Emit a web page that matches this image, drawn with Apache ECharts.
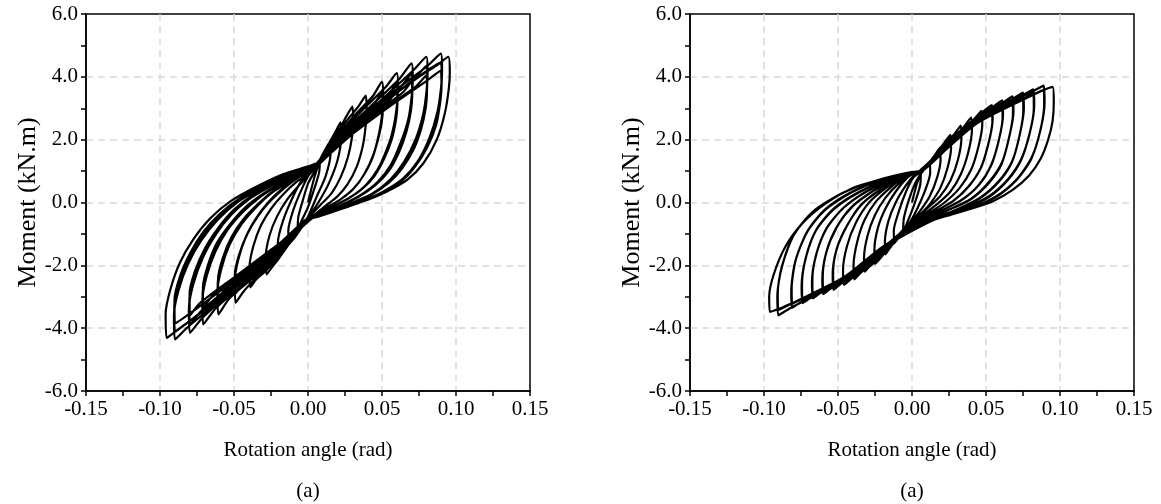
<!DOCTYPE html>
<html>
<head>
<meta charset="utf-8">
<script src="https://cdn.jsdelivr.net/npm/echarts@6/dist/echarts.min.js"></script>
<style>
  html, body { margin: 0; padding: 0; background: #fff; }
  #chart { width: 1161px; height: 504px; }
</style>
</head>
<body>
<div id="chart"></div>
<script>
// Axis ranges and tick steps
const xRange = [-0.15, 0.15];
const xStep = 0.05;
const yRange = [-6, 6];
const yStep = 2;
const xTitle = 'Rotation angle (rad)';
const yTitle = 'Moment (kN.m)';
const panelTags = ['(a)', '(a)'];

// Specimen 1: hysteresis cycles [rotation (rad), moment (kN.m)]
const s1c01 = [[0.000,0.00],[0.004,0.75],[0.008,1.35],[0.0075,0.95],[0.004,0.40],[0.000,-0.15],[-0.004,-0.55],[-0.007,-0.85],[-0.0065,-0.45],[-0.003,0.15],[0.000,0.60]];
const s1c02 = [[0.004,0.95],[0.009,1.45],[0.015,1.95],[0.0152,1.55],[0.012,0.85],[0.006,0.20],[0.000,-0.45],[-0.006,-0.90],[-0.013,-1.30],[-0.0133,-0.90],[-0.010,-0.25],[-0.004,0.45],[0.001,0.90]];
const s1c03 = [[0.005,1.10],[0.012,1.70],[0.018,2.20],[0.022,2.55],[0.0224,2.10],[0.020,1.35],[0.014,0.60],[0.007,0.00],[0.000,-0.50],[-0.008,-1.05],[-0.015,-1.45],[-0.020,-1.76],[-0.0204,-1.30],[-0.017,-0.60],[-0.010,0.20],[-0.003,0.80],[0.003,1.05]];
const s1c04 = [[0.006,1.20],[0.014,1.85],[0.022,2.40],[0.026,2.75],[0.030,3.05],[0.0305,2.60],[0.0298,2.10],[0.027,1.45],[0.022,0.80],[0.016,0.30],[0.009,-0.05],[0.002,-0.40],[-0.003,-0.65],[-0.011,-1.20],[-0.020,-1.80],[-0.025,-2.10],[-0.028,-2.29],[-0.0285,-1.70],[-0.026,-1.05],[-0.021,-0.45],[-0.014,0.10],[-0.006,0.55],[0.002,0.95]];
const s1c05 = [[0.006,1.20],[0.015,1.90],[0.027,2.65],[0.034,3.05],[0.039,3.40],[0.0396,2.95],[0.039,2.45],[0.037,1.80],[0.033,1.15],[0.027,0.60],[0.020,0.20],[0.012,-0.10],[0.004,-0.40],[-0.003,-0.65],[-0.013,-1.30],[-0.028,-2.15],[-0.035,-2.45],[-0.039,-2.70],[-0.0395,-2.05],[-0.037,-1.40],[-0.032,-0.75],[-0.025,-0.20],[-0.017,0.25],[-0.008,0.65],[0.002,0.98]];
const s1c06 = [[0.006,1.20],[0.017,1.95],[0.032,2.80],[0.044,3.40],[0.050,3.84],[0.0508,3.35],[0.0502,2.85],[0.048,2.20],[0.044,1.50],[0.038,0.90],[0.031,0.45],[0.022,0.10],[0.012,-0.18],[0.003,-0.45],[-0.003,-0.65],[-0.015,-1.35],[-0.032,-2.25],[-0.043,-2.80],[-0.049,-3.19],[-0.0495,-2.50],[-0.047,-1.80],[-0.042,-1.10],[-0.035,-0.50],[-0.027,0.00],[-0.018,0.42],[-0.008,0.78],[0.002,1.02]];
const s1c07 = [[0.006,1.15],[0.018,1.85],[0.034,2.65],[0.045,3.15],[0.050,3.50],[0.0506,3.05],[0.0498,2.55],[0.047,1.95],[0.043,1.35],[0.037,0.82],[0.030,0.40],[0.021,0.07],[0.011,-0.20],[0.002,-0.47],[-0.004,-0.68],[-0.016,-1.30],[-0.033,-2.10],[-0.044,-2.55],[-0.049,-2.90],[-0.0494,-2.30],[-0.0465,-1.65],[-0.041,-1.00],[-0.034,-0.45],[-0.026,0.02],[-0.017,0.42],[-0.007,0.78],[0.003,1.02]];
const s1c08 = [[0.006,1.22],[0.020,2.10],[0.038,3.00],[0.053,3.70],[0.060,4.12],[0.0608,3.65],[0.0602,3.15],[0.058,2.45],[0.054,1.75],[0.047,1.05],[0.039,0.55],[0.029,0.18],[0.018,-0.10],[0.007,-0.35],[0.000,-0.52],[-0.016,-1.40],[-0.036,-2.35],[-0.053,-3.05],[-0.0606,-3.56],[-0.0612,-2.85],[-0.0585,-2.10],[-0.053,-1.35],[-0.045,-0.70],[-0.036,-0.20],[-0.026,0.25],[-0.015,0.60],[-0.004,0.90],[0.003,1.05]];
const s1c09 = [[0.006,1.18],[0.021,2.00],[0.040,2.85],[0.054,3.40],[0.060,3.80],[0.0606,3.35],[0.0598,2.85],[0.057,2.20],[0.052,1.55],[0.046,0.95],[0.038,0.50],[0.028,0.15],[0.017,-0.12],[0.006,-0.37],[-0.001,-0.55],[-0.017,-1.35],[-0.038,-2.25],[-0.054,-2.85],[-0.0606,-3.25],[-0.061,-2.60],[-0.058,-1.90],[-0.052,-1.20],[-0.044,-0.60],[-0.035,-0.13],[-0.025,0.30],[-0.014,0.64],[-0.003,0.92],[0.004,1.06]];
const s1c09c = [[0.006,1.15],[0.024,2.05],[0.042,2.75],[0.055,3.25],[0.060,3.60],[0.0604,3.15],[0.0595,2.65],[0.0565,2.00],[0.0515,1.40],[0.045,0.85],[0.037,0.45],[0.027,0.12],[0.016,-0.14],[0.005,-0.39],[-0.002,-0.56],[-0.019,-1.30],[-0.040,-2.15],[-0.055,-2.70],[-0.0606,-3.05],[-0.0608,-2.45],[-0.0575,-1.75],[-0.0515,-1.08],[-0.0435,-0.52],[-0.0345,-0.08],[-0.0245,0.33],[-0.0135,0.67],[-0.0025,0.94],[0.004,1.07]];
const s1c10 = [[0.006,1.20],[0.022,2.15],[0.042,3.05],[0.062,3.95],[0.070,4.43],[0.0708,3.95],[0.0702,3.45],[0.068,2.70],[0.063,1.95],[0.056,1.20],[0.047,0.65],[0.036,0.25],[0.024,-0.05],[0.012,-0.30],[0.002,-0.50],[-0.018,-1.45],[-0.040,-2.45],[-0.062,-3.35],[-0.0708,-3.88],[-0.0714,-3.15],[-0.0685,-2.35],[-0.0625,-1.55],[-0.054,-0.85],[-0.044,-0.30],[-0.033,0.15],[-0.021,0.52],[-0.009,0.85],[0.002,1.05]];
const s1c11 = [[0.006,1.18],[0.023,2.05],[0.044,2.95],[0.063,3.70],[0.070,4.10],[0.0706,3.65],[0.0698,3.15],[0.067,2.45],[0.062,1.75],[0.055,1.10],[0.046,0.60],[0.035,0.22],[0.023,-0.07],[0.011,-0.32],[0.001,-0.52],[-0.019,-1.40],[-0.042,-2.35],[-0.063,-3.15],[-0.0708,-3.60],[-0.0712,-2.90],[-0.068,-2.15],[-0.062,-1.40],[-0.053,-0.75],[-0.043,-0.22],[-0.032,0.20],[-0.020,0.56],[-0.008,0.88],[0.003,1.06]];
const s1c11c = [[0.006,1.15],[0.026,2.10],[0.047,2.90],[0.064,3.50],[0.070,3.85],[0.0704,3.40],[0.0695,2.90],[0.0665,2.25],[0.0615,1.60],[0.0545,1.00],[0.0455,0.55],[0.0345,0.19],[0.0225,-0.09],[0.0105,-0.34],[0.000,-0.53],[-0.020,-1.35],[-0.044,-2.25],[-0.064,-2.95],[-0.0708,-3.35],[-0.0710,-2.70],[-0.0675,-1.98],[-0.0615,-1.28],[-0.0525,-0.68],[-0.0425,-0.16],[-0.0315,0.24],[-0.0195,0.60],[-0.0075,0.90],[0.003,1.07]];
const s1c12 = [[0.006,1.25],[0.024,2.20],[0.048,3.20],[0.071,4.20],[0.080,4.64],[0.0808,4.15],[0.0802,3.60],[0.078,2.85],[0.073,2.05],[0.065,1.30],[0.056,0.75],[0.044,0.30],[0.030,0.00],[0.016,-0.25],[0.003,-0.50],[-0.020,-1.50],[-0.045,-2.55],[-0.071,-3.65],[-0.0798,-4.15],[-0.0805,-3.40],[-0.0775,-2.60],[-0.071,-1.75],[-0.062,-1.00],[-0.052,-0.40],[-0.040,0.10],[-0.026,0.50],[-0.012,0.85],[0.002,1.08]];
const s1c13 = [[0.006,1.20],[0.025,2.10],[0.050,3.10],[0.072,3.95],[0.080,4.35],[0.0806,3.85],[0.0798,3.30],[0.077,2.60],[0.072,1.85],[0.064,1.18],[0.055,0.68],[0.043,0.27],[0.029,-0.02],[0.015,-0.27],[0.002,-0.52],[-0.021,-1.45],[-0.047,-2.45],[-0.072,-3.45],[-0.0798,-3.90],[-0.0802,-3.15],[-0.077,-2.40],[-0.070,-1.60],[-0.061,-0.90],[-0.051,-0.32],[-0.039,0.15],[-0.025,0.54],[-0.011,0.88],[0.003,1.10]];
const s1c13c = [[0.006,1.15],[0.027,2.10],[0.052,3.00],[0.073,3.70],[0.080,4.05],[0.0804,3.55],[0.0795,3.00],[0.0765,2.35],[0.0715,1.70],[0.0635,1.08],[0.0545,0.62],[0.0425,0.24],[0.0285,-0.04],[0.0145,-0.29],[0.001,-0.54],[-0.022,-1.40],[-0.049,-2.35],[-0.073,-3.20],[-0.0798,-3.60],[-0.0800,-2.90],[-0.0765,-2.20],[-0.0695,-1.45],[-0.0605,-0.80],[-0.0505,-0.25],[-0.0385,0.20],[-0.0245,0.58],[-0.0105,0.90],[0.003,1.10]];
const s1c14 = [[0.006,1.25],[0.025,2.20],[0.050,3.25],[0.074,4.10],[0.082,4.40],[0.0897,4.74],[0.0906,4.25],[0.0900,3.70],[0.0875,2.90],[0.082,2.05],[0.074,1.30],[0.064,0.75],[0.051,0.35],[0.037,0.05],[0.022,-0.20],[0.008,-0.42],[0.000,-0.55],[-0.020,-1.50],[-0.048,-2.65],[-0.072,-3.60],[-0.082,-4.00],[-0.0899,-4.36],[-0.0906,-3.60],[-0.0875,-2.80],[-0.081,-1.95],[-0.072,-1.20],[-0.061,-0.55],[-0.048,0.00],[-0.032,0.45],[-0.016,0.85],[0.000,1.10]];
const s1c15 = [[0.006,1.22],[0.026,2.15],[0.052,3.20],[0.076,4.05],[0.0897,4.45],[0.0904,3.95],[0.0896,3.40],[0.087,2.65],[0.081,1.90],[0.073,1.22],[0.063,0.70],[0.050,0.32],[0.036,0.03],[0.021,-0.22],[0.007,-0.44],[-0.001,-0.56],[-0.021,-1.48],[-0.050,-2.62],[-0.074,-3.55],[-0.0899,-4.10],[-0.0904,-3.35],[-0.087,-2.55],[-0.080,-1.75],[-0.071,-1.05],[-0.060,-0.45],[-0.047,0.06],[-0.031,0.50],[-0.015,0.88],[0.001,1.12]];
const s1c15c = [[0.006,1.18],[0.028,2.10],[0.055,3.05],[0.078,3.80],[0.0897,4.20],[0.0902,3.70],[0.0892,3.15],[0.0865,2.45],[0.0805,1.75],[0.0725,1.15],[0.0625,0.65],[0.0495,0.29],[0.0355,0.01],[0.0205,-0.24],[0.0065,-0.46],[-0.001,-0.56],[-0.022,-1.45],[-0.052,-2.55],[-0.076,-3.40],[-0.0899,-3.85],[-0.0902,-3.10],[-0.0865,-2.35],[-0.0795,-1.60],[-0.0705,-0.92],[-0.0595,-0.36],[-0.0465,0.12],[-0.0305,0.55],[-0.0145,0.90],[0.001,1.13]];
const s1c16 = [[0.006,1.25],[0.025,2.15],[0.050,3.15],[0.075,4.00],[0.088,4.40],[0.0948,4.64],[0.0958,4.15],[0.0952,3.65],[0.0925,2.85],[0.087,2.00],[0.078,1.25],[0.067,0.72],[0.053,0.34],[0.040,0.08],[0.026,-0.12],[0.011,-0.33],[0.000,-0.55],[-0.020,-1.45],[-0.048,-2.60],[-0.072,-3.50],[-0.088,-4.05],[-0.0955,-4.31],[-0.0962,-3.55],[-0.0930,-2.77],[-0.0865,-1.91],[-0.0775,-1.17],[-0.066,-0.50],[-0.052,0.05],[-0.035,0.50],[-0.017,0.90],[0.000,1.15],[0.006,1.25]];

// Specimen 2: hysteresis cycles [rotation (rad), moment (kN.m)]
const s2c01 = [[0.000,0.00],[0.003,0.55],[0.006,0.95],[0.0055,0.55],[0.002,0.00],[-0.002,-0.50],[-0.006,-0.95],[-0.0055,-0.50],[-0.002,0.10],[0.002,0.60]];
const s2c02 = [[0.005,0.85],[0.009,1.10],[0.012,1.30],[0.0123,0.95],[0.009,0.40],[0.004,-0.15],[-0.001,-0.60],[-0.007,-1.00],[-0.012,-1.30],[-0.0123,-0.90],[-0.009,-0.30],[-0.004,0.35],[0.001,0.80]];
const s2c03 = [[0.005,0.95],[0.012,1.30],[0.016,1.55],[0.019,1.75],[0.0193,1.35],[0.017,0.80],[0.012,0.20],[0.005,-0.30],[-0.002,-0.70],[-0.010,-1.15],[-0.015,-1.45],[-0.018,-1.65],[-0.0183,-1.25],[-0.016,-0.60],[-0.011,0.00],[-0.004,0.55],[0.002,0.90]];
const s2c04 = [[0.005,1.00],[0.013,1.35],[0.021,1.85],[0.026,2.15],[0.0264,1.75],[0.024,1.10],[0.019,0.45],[0.012,-0.05],[0.004,-0.45],[-0.003,-0.75],[-0.012,-1.22],[-0.021,-1.75],[-0.025,-1.95],[-0.0254,-1.50],[-0.023,-0.80],[-0.018,-0.20],[-0.011,0.35],[-0.003,0.80],[0.003,0.98]];
const s2c05 = [[0.005,1.00],[0.014,1.35],[0.024,1.95],[0.029,2.20],[0.033,2.45],[0.0334,2.05],[0.031,1.35],[0.026,0.70],[0.019,0.20],[0.010,-0.20],[0.002,-0.55],[-0.004,-0.80],[-0.014,-1.30],[-0.024,-1.85],[-0.029,-2.05],[-0.032,-2.20],[-0.0324,-1.75],[-0.030,-1.05],[-0.025,-0.40],[-0.018,0.15],[-0.009,0.60],[0.000,0.90]];
const s2c06 = [[0.005,1.00],[0.014,1.35],[0.025,1.95],[0.034,2.35],[0.040,2.70],[0.0405,2.30],[0.038,1.60],[0.033,0.90],[0.026,0.35],[0.017,-0.05],[0.007,-0.40],[-0.003,-0.72],[-0.014,-1.30],[-0.026,-1.90],[-0.035,-2.25],[-0.039,-2.45],[-0.0395,-2.00],[-0.037,-1.25],[-0.032,-0.55],[-0.024,0.05],[-0.014,0.50],[-0.004,0.85],[0.003,0.98]];
const s2c07 = [[0.005,1.00],[0.015,1.40],[0.028,2.05],[0.041,2.60],[0.047,2.92],[0.0475,2.50],[0.045,1.80],[0.040,1.05],[0.032,0.45],[0.022,0.00],[0.011,-0.35],[0.000,-0.68],[-0.014,-1.30],[-0.028,-1.95],[-0.041,-2.42],[-0.046,-2.62],[-0.0466,-2.15],[-0.044,-1.40],[-0.038,-0.65],[-0.029,0.00],[-0.018,0.45],[-0.006,0.82],[0.003,0.98]];
const s2c08 = [[0.005,1.00],[0.015,1.40],[0.030,2.15],[0.047,2.85],[0.054,3.10],[0.0545,2.65],[0.052,1.95],[0.047,1.15],[0.039,0.55],[0.028,0.05],[0.015,-0.30],[0.002,-0.65],[-0.015,-1.32],[-0.031,-2.05],[-0.048,-2.58],[-0.053,-2.78],[-0.0536,-2.30],[-0.051,-1.50],[-0.044,-0.75],[-0.035,-0.10],[-0.022,0.40],[-0.008,0.80],[0.003,0.98]];
const s2c08b = [[0.005,0.98],[0.016,1.38],[0.031,2.08],[0.048,2.75],[0.054,2.98],[0.0543,2.55],[0.0515,1.85],[0.0465,1.10],[0.038,0.50],[0.027,0.02],[0.014,-0.32],[0.001,-0.66],[-0.016,-1.30],[-0.032,-2.00],[-0.048,-2.50],[-0.053,-2.68],[-0.0533,-2.20],[-0.0505,-1.42],[-0.0435,-0.70],[-0.034,-0.06],[-0.021,0.42],[-0.007,0.80],[0.003,0.97]];
const s2c09 = [[0.005,1.00],[0.016,1.45],[0.032,2.25],[0.054,3.02],[0.061,3.25],[0.0615,2.80],[0.059,2.05],[0.054,1.25],[0.046,0.60],[0.034,0.10],[0.019,-0.28],[0.004,-0.62],[-0.015,-1.32],[-0.033,-2.12],[-0.055,-2.74],[-0.060,-2.92],[-0.0606,-2.45],[-0.058,-1.60],[-0.051,-0.80],[-0.041,-0.15],[-0.027,0.35],[-0.011,0.78],[0.003,0.98]];
const s2c09b = [[0.005,0.98],[0.017,1.42],[0.033,2.18],[0.055,2.92],[0.061,3.12],[0.0612,2.68],[0.0585,1.95],[0.0535,1.18],[0.045,0.55],[0.033,0.06],[0.018,-0.30],[0.003,-0.64],[-0.016,-1.30],[-0.034,-2.08],[-0.055,-2.66],[-0.060,-2.82],[-0.0603,-2.35],[-0.0575,-1.52],[-0.0505,-0.75],[-0.040,-0.12],[-0.026,0.37],[-0.010,0.79],[0.003,0.97]];
const s2c10 = [[0.005,1.00],[0.016,1.45],[0.035,2.35],[0.061,3.17],[0.068,3.38],[0.0686,2.90],[0.066,2.15],[0.061,1.30],[0.052,0.65],[0.040,0.12],[0.024,-0.25],[0.007,-0.60],[-0.016,-1.35],[-0.036,-2.20],[-0.062,-2.88],[-0.067,-3.05],[-0.0676,-2.55],[-0.065,-1.70],[-0.058,-0.85],[-0.047,-0.20],[-0.032,0.32],[-0.014,0.75],[0.003,0.98]];
const s2c10b = [[0.005,0.98],[0.017,1.42],[0.036,2.28],[0.062,3.08],[0.068,3.26],[0.0682,2.80],[0.0655,2.05],[0.0605,1.22],[0.0515,0.60],[0.039,0.08],[0.023,-0.27],[0.006,-0.61],[-0.017,-1.33],[-0.037,-2.15],[-0.062,-2.80],[-0.067,-2.95],[-0.0673,-2.45],[-0.0645,-1.62],[-0.0575,-0.80],[-0.046,-0.16],[-0.031,0.34],[-0.013,0.76],[0.003,0.97]];
const s2c11 = [[0.005,1.00],[0.017,1.50],[0.038,2.45],[0.068,3.30],[0.075,3.50],[0.0756,3.00],[0.073,2.20],[0.068,1.35],[0.059,0.70],[0.046,0.15],[0.029,-0.25],[0.010,-0.58],[-0.016,-1.35],[-0.039,-2.28],[-0.069,-3.05],[-0.074,-3.20],[-0.0746,-2.70],[-0.072,-1.80],[-0.065,-0.90],[-0.053,-0.22],[-0.036,0.32],[-0.017,0.72],[0.003,0.98]];
const s2c11b = [[0.005,0.98],[0.018,1.48],[0.039,2.38],[0.069,3.20],[0.075,3.38],[0.0752,2.90],[0.0725,2.10],[0.0675,1.28],[0.0585,0.65],[0.0455,0.12],[0.0285,-0.27],[0.009,-0.59],[-0.017,-1.33],[-0.040,-2.22],[-0.069,-2.95],[-0.074,-3.08],[-0.0743,-2.60],[-0.0715,-1.72],[-0.0645,-0.85],[-0.0525,-0.18],[-0.0355,0.34],[-0.016,0.73],[0.003,0.97]];
const s2c12 = [[0.005,1.00],[0.017,1.50],[0.040,2.50],[0.075,3.42],[0.082,3.60],[0.0826,3.10],[0.080,2.30],[0.074,1.40],[0.065,0.75],[0.052,0.20],[0.034,-0.22],[0.013,-0.56],[-0.017,-1.38],[-0.042,-2.35],[-0.076,-3.20],[-0.081,-3.35],[-0.0816,-2.85],[-0.079,-1.90],[-0.071,-0.95],[-0.059,-0.25],[-0.041,0.32],[-0.020,0.72],[0.004,0.98]];
const s2c12b = [[0.005,0.98],[0.018,1.48],[0.041,2.45],[0.076,3.32],[0.082,3.48],[0.0823,3.00],[0.0795,2.20],[0.0735,1.33],[0.0645,0.70],[0.0515,0.16],[0.0335,-0.24],[0.0125,-0.57],[-0.018,-1.36],[-0.043,-2.30],[-0.076,-3.10],[-0.081,-3.22],[-0.0813,-2.75],[-0.0785,-1.82],[-0.0705,-0.90],[-0.0585,-0.21],[-0.0405,0.34],[-0.0195,0.73],[0.004,0.97]];
const s2c13 = [[0.005,1.00],[0.018,1.55],[0.043,2.58],[0.082,3.55],[0.089,3.72],[0.0896,3.20],[0.087,2.35],[0.081,1.45],[0.071,0.75],[0.057,0.20],[0.038,-0.22],[0.015,-0.55],[-0.018,-1.40],[-0.045,-2.42],[-0.083,-3.38],[-0.0903,-3.59],[-0.0910,-3.00],[-0.088,-2.05],[-0.080,-1.05],[-0.067,-0.30],[-0.047,0.30],[-0.024,0.70],[0.004,0.98]];
const s2c13b = [[0.005,0.98],[0.019,1.52],[0.044,2.52],[0.083,3.45],[0.089,3.58],[0.0893,3.10],[0.0865,2.25],[0.0805,1.38],[0.0705,0.71],[0.0565,0.17],[0.0375,-0.23],[0.0145,-0.56],[-0.019,-1.38],[-0.046,-2.38],[-0.084,-3.28],[-0.0903,-3.42],[-0.0907,-2.90],[-0.0875,-1.98],[-0.0795,-1.00],[-0.0665,-0.27],[-0.0465,0.31],[-0.0235,0.71],[0.004,0.97]];
const s2c14 = [[0.005,1.00],[0.018,1.55],[0.045,2.62],[0.087,3.55],[0.095,3.68],[0.0958,3.20],[0.0950,2.60],[0.0920,2.00],[0.087,1.40],[0.079,0.85],[0.068,0.40],[0.055,0.05],[0.040,-0.20],[0.024,-0.42],[0.010,-0.60],[0.000,-0.72],[-0.018,-1.42],[-0.046,-2.45],[-0.088,-3.35],[-0.096,-3.48],[-0.0965,-3.00],[-0.0935,-2.30],[-0.0855,-1.40],[-0.074,-0.66],[-0.058,-0.02],[-0.040,0.46],[-0.022,0.72],[-0.004,0.92],[0.005,1.00]];

const specimen1 = [s1c01, s1c02, s1c03, s1c04, s1c05, s1c06, s1c07,
                   s1c08, s1c09, s1c09c, s1c10, s1c11, s1c11c,
                   s1c12, s1c13, s1c13c, s1c14, s1c15, s1c15c, s1c16];
const specimen2 = [s2c01, s2c02, s2c03, s2c04, s2c05, s2c06, s2c07,
                   s2c08, s2c08b, s2c09, s2c09b, s2c10, s2c10b, s2c11, s2c11b,
                   s2c12, s2c12b, s2c13, s2c13b, s2c14];

const FONT = 'Liberation Serif';
const FS = 21;        // tick labels, x title, panel tags
const FS_YNAME = 26;  // y title

const grids = [
  { left: 86, top: 14, width: 444, height: 377 },
  { left: 690, top: 14, width: 444, height: 377 }
];

const gridLine = { color: '#d9d9d9', width: 1.5, type: [7, 5] };

function xAxisFor(i) {
  return {
    type: 'value', gridIndex: i,
    min: xRange[0], max: xRange[1], interval: xStep,
    name: xTitle, nameLocation: 'middle', nameGap: 49,
    nameTextStyle: { fontFamily: FONT, fontSize: FS, color: '#000' },
    axisLine: { onZero: false, lineStyle: { color: '#000', width: 1.5 } },
    axisTick: { show: true, inside: false, length: 5, lineStyle: { color: '#000', width: 1.5 } },
    minorTick: { show: true, splitNumber: 2, length: 5, lineStyle: { color: '#000', width: 1.5 } },
    axisLabel: { fontFamily: FONT, fontSize: FS, color: '#000', margin: 8,
                 formatter: v => v.toFixed(2) },
    splitLine: { show: true, showMinLine: false, showMaxLine: false, lineStyle: gridLine }
  };
}
function yAxisFor(i) {
  return {
    type: 'value', gridIndex: i,
    min: yRange[0], max: yRange[1], interval: yStep,
    name: yTitle, nameLocation: 'middle', nameGap: 32, nameRotate: 90,
    nameTextStyle: { fontFamily: FONT, fontSize: FS_YNAME, color: '#000' },
    axisLine: { onZero: false, lineStyle: { color: '#000', width: 1.5 } },
    axisTick: { show: true, inside: false, length: 5, lineStyle: { color: '#000', width: 1.5 } },
    minorTick: { show: true, splitNumber: 2, length: 5, lineStyle: { color: '#000', width: 1.5 } },
    axisLabel: { fontFamily: FONT, fontSize: FS, color: '#000', margin: 8,
                 formatter: v => v.toFixed(1) },
    splitLine: { show: true, showMinLine: false, showMaxLine: false, lineStyle: gridLine }
  };
}

function loopSeries(i, cycles) {
  return {
    type: 'line', xAxisIndex: i, yAxisIndex: i,
    data: [].concat(...cycles),
    showSymbol: false, smooth: 0.25, animation: false,
    lineStyle: { color: '#000', width: 2.2 },
    z: 5
  };
}

const chart = echarts.init(document.getElementById('chart'), null, { renderer: 'canvas' });
chart.setOption({
  animation: false,
  backgroundColor: '#fff',
  grid: grids.map(g => Object.assign({ show: true, borderColor: '#000', borderWidth: 1.5 }, g)),
  xAxis: [xAxisFor(0), xAxisFor(1)],
  yAxis: [yAxisFor(0), yAxisFor(1)],
  series: [loopSeries(0, specimen1), loopSeries(1, specimen2)],
  graphic: grids.map((g, i) => ({
    type: 'text', x: g.left + g.width / 2, y: 491,
    style: { text: panelTags[i], font: FS + 'px "' + FONT + '"', fill: '#000',
             textAlign: 'center', textVerticalAlign: 'middle' }
  }))
});
</script>
</body>
</html>
